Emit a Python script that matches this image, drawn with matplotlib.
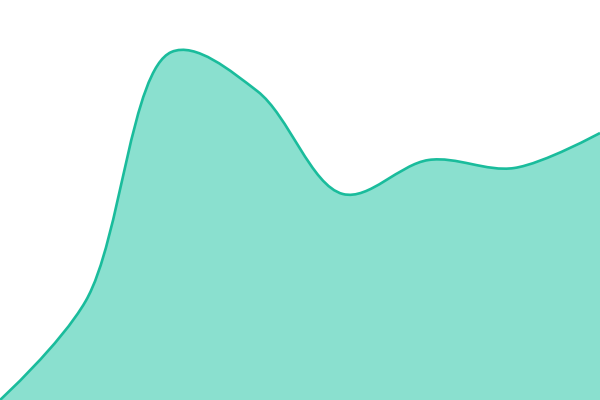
import numpy as np
import matplotlib
matplotlib.use("Agg")
import matplotlib.pyplot as plt
from matplotlib.path import Path
from matplotlib.patches import PathPatch

# values (plot height = 400 units)
x_idx = [0, 1, 2, 3, 4, 5, 6, 7]
values = [0, 99, 348, 309, 206, 240, 232, 267]

LINE = "#1abc9c"
FILL = "#8ae0cf"
W, H = 600, 400


def catmull_rom_path(pts, alpha=0.5):
    # centripetal catmull-rom as cubic bezier segments (d3 style)
    pts = [np.asarray(p, float) for p in pts]
    n = len(pts)
    verts = [pts[0]]
    codes = [Path.MOVETO]
    for i in range(n - 1):
        p0 = pts[i - 1] if i > 0 else None
        p1, p2 = pts[i], pts[i + 1]
        p3 = pts[i + 2] if i + 2 < n else None
        l12 = np.linalg.norm(p2 - p1)
        l12_a, l12_2a = l12 ** alpha, l12 ** (2 * alpha)
        c1 = p1.copy()
        if p0 is not None:
            l01 = np.linalg.norm(p1 - p0)
            l01_a, l01_2a = l01 ** alpha, l01 ** (2 * alpha)
            a = 2 * l01_2a + 3 * l01_a * l12_a + l12_2a
            m = 3 * l01_a * (l01_a + l12_a)
            c1 = (p1 * a - p0 * l12_2a + p2 * l01_2a) / m
        c2 = p2.copy()
        if p3 is not None:
            l23 = np.linalg.norm(p3 - p2)
            l23_a, l23_2a = l23 ** alpha, l23 ** (2 * alpha)
            b = 2 * l23_2a + 3 * l23_a * l12_a + l12_2a
            m = 3 * l23_a * (l23_a + l12_a)
            c2 = (p2 * b + p1 * l23_2a - p3 * l12_2a) / m
        verts += [c1, c2, p2]
        codes += [Path.CURVE4] * 3
    return np.array(verts), codes


fig = plt.figure(figsize=(6, 4), dpi=100)
ax = fig.add_axes([0, 0, 1, 1])
ax.set_xlim(0, 7)
ax.set_ylim(0, 400)
ax.axis("off")

# work in pixel-proportional space so the centripetal spacing matches the screen
sx = W / (len(x_idx) - 1)
sy = H / 400
pts = [(x * sx, v * sy) for x, v in zip(x_idx, values)]
verts, codes = catmull_rom_path(pts)
verts = verts / [sx, sy]

line = Path(verts, codes)
area_verts = np.vstack([verts, [[x_idx[-1], 0], [x_idx[0], 0], verts[0]]])
area_codes = codes + [Path.LINETO, Path.LINETO, Path.CLOSEPOLY]
ax.add_patch(PathPatch(Path(area_verts, area_codes), facecolor=FILL, edgecolor="none"))
ax.add_patch(PathPatch(line, facecolor="none", edgecolor=LINE, linewidth=1.9))

fig.savefig("out.png", dpi=100)
